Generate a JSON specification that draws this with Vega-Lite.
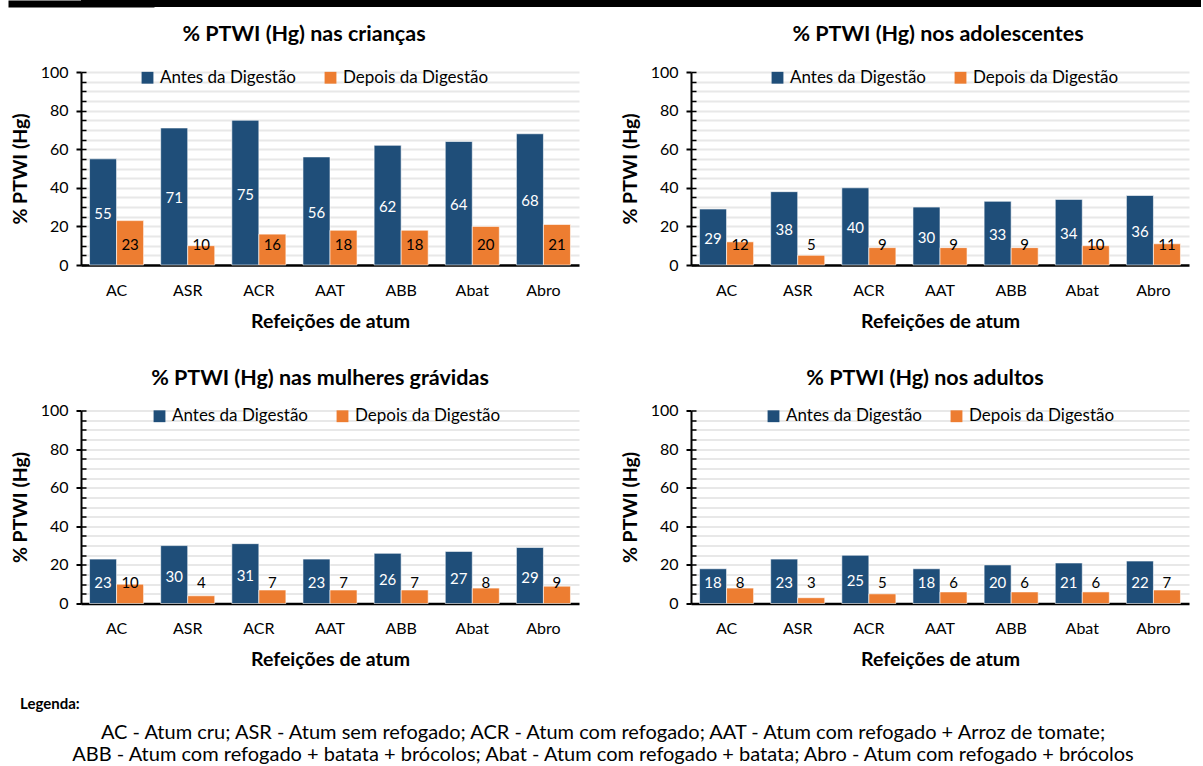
{
  "$schema": "https://vega.github.io/schema/vega-lite/v6.json",
  "padding": {"left": 10, "top": 0, "right": 0, "bottom": 0},
  "background": "white",
  "datasets": {
    "ptwi": [
      {"grupo": "criancas", "refeicao": "AC", "Antes da Digestão": 55, "Depois da Digestão": 23},
      {"grupo": "criancas", "refeicao": "ASR", "Antes da Digestão": 71, "Depois da Digestão": 10},
      {"grupo": "criancas", "refeicao": "ACR", "Antes da Digestão": 75, "Depois da Digestão": 16},
      {"grupo": "criancas", "refeicao": "AAT", "Antes da Digestão": 56, "Depois da Digestão": 18},
      {"grupo": "criancas", "refeicao": "ABB", "Antes da Digestão": 62, "Depois da Digestão": 18},
      {"grupo": "criancas", "refeicao": "Abat", "Antes da Digestão": 64, "Depois da Digestão": 20},
      {"grupo": "criancas", "refeicao": "Abro", "Antes da Digestão": 68, "Depois da Digestão": 21},
      {"grupo": "adolescentes", "refeicao": "AC", "Antes da Digestão": 29, "Depois da Digestão": 12},
      {"grupo": "adolescentes", "refeicao": "ASR", "Antes da Digestão": 38, "Depois da Digestão": 5},
      {"grupo": "adolescentes", "refeicao": "ACR", "Antes da Digestão": 40, "Depois da Digestão": 9},
      {"grupo": "adolescentes", "refeicao": "AAT", "Antes da Digestão": 30, "Depois da Digestão": 9},
      {"grupo": "adolescentes", "refeicao": "ABB", "Antes da Digestão": 33, "Depois da Digestão": 9},
      {"grupo": "adolescentes", "refeicao": "Abat", "Antes da Digestão": 34, "Depois da Digestão": 10},
      {"grupo": "adolescentes", "refeicao": "Abro", "Antes da Digestão": 36, "Depois da Digestão": 11},
      {"grupo": "gravidas", "refeicao": "AC", "Antes da Digestão": 23, "Depois da Digestão": 10},
      {"grupo": "gravidas", "refeicao": "ASR", "Antes da Digestão": 30, "Depois da Digestão": 4},
      {"grupo": "gravidas", "refeicao": "ACR", "Antes da Digestão": 31, "Depois da Digestão": 7},
      {"grupo": "gravidas", "refeicao": "AAT", "Antes da Digestão": 23, "Depois da Digestão": 7},
      {"grupo": "gravidas", "refeicao": "ABB", "Antes da Digestão": 26, "Depois da Digestão": 7},
      {"grupo": "gravidas", "refeicao": "Abat", "Antes da Digestão": 27, "Depois da Digestão": 8},
      {"grupo": "gravidas", "refeicao": "Abro", "Antes da Digestão": 29, "Depois da Digestão": 9},
      {"grupo": "adultos", "refeicao": "AC", "Antes da Digestão": 18, "Depois da Digestão": 8},
      {"grupo": "adultos", "refeicao": "ASR", "Antes da Digestão": 23, "Depois da Digestão": 3},
      {"grupo": "adultos", "refeicao": "ACR", "Antes da Digestão": 25, "Depois da Digestão": 5},
      {"grupo": "adultos", "refeicao": "AAT", "Antes da Digestão": 18, "Depois da Digestão": 6},
      {"grupo": "adultos", "refeicao": "ABB", "Antes da Digestão": 20, "Depois da Digestão": 6},
      {"grupo": "adultos", "refeicao": "Abat", "Antes da Digestão": 21, "Depois da Digestão": 6},
      {"grupo": "adultos", "refeicao": "Abro", "Antes da Digestão": 22, "Depois da Digestão": 7}
    ]
  },
  "columns": 1,
  "align": "none",
  "spacing": 27.5,
  "resolve": {"scale": {"color": "independent"}, "legend": {"color": "independent"}},
  "concat": [
    {
      "columns": 1,
      "align": "none",
      "spacing": 36.5,
      "resolve": {"scale": {"color": "independent"}, "legend": {"color": "independent"}},
      "concat": [
        {
          "columns": 1,
          "align": "none",
          "spacing": 12,
          "resolve": {"scale": {"color": "independent"}, "legend": {"color": "independent"}},
          "concat": [
            {
              "width": 1120,
              "height": 7,
              "data": {"values": [{"v": 0}]},
              "mark": {"type": "text"},
              "encoding": {
                "y": {"field": "v", "type": "quantitative", "title": null, "scale": {"domain": [0, 1]},
                  "axis": {"orient": "left", "domainWidth": 146, "domainColor": "#000000", "ticks": false, "labels": false, "grid": false}}
              },
              "view": {"fill": "#000000", "stroke": null}
            },
            {
              "spacing": 41,
              "resolve": {"scale": {"color": "independent"}, "legend": {"color": "independent"}},
              "hconcat": [
                {
                  "data": {"name": "ptwi"},
                  "transform": [
                    {"filter": "datum.grupo === 'criancas'"},
                    {"fold": ["Antes da Digestão", "Depois da Digestão"], "as": ["fase", "valor"]},
                    {"calculate": "max(datum.valor / 2, 11.5)", "as": "posRotulo"}
                  ],
                  "title": {"text": "% PTWI (Hg) nas crianças", "dx": -26, "offset": 18.5},
                  "width": 498,
                  "height": 193,
                  "encoding": {
                    "x": {"field": "refeicao", "type": "nominal", "sort": ["AC", "ASR", "ACR", "AAT", "ABB", "Abat", "Abro"], "title": "Refeições de atum", "scale": {"paddingInner": 0.24, "paddingOuter": 0.12}},
                    "xOffset": {"field": "fase", "type": "nominal", "sort": ["Antes da Digestão", "Depois da Digestão"]}
                  },
                  "resolve": {"axis": {"y": "independent"}},
                  "layer": [
                    {
                      "mark": {"type": "bar", "stroke": "white", "strokeWidth": 0.6},
                      "encoding": {
                        "y": {"field": "valor", "type": "quantitative", "title": null, "scale": {"domain": [0, 100]},
                          "axis": {"orient": "left", "values": [0, 5, 10, 15, 20, 25, 30, 35, 40, 45, 50, 55, 60, 65, 70, 75, 80, 85, 90, 95, 100], "labels": false, "domain": false, "grid": true, "tickSize": -5, "tickWidth": 1.5, "zindex": 0}},
                        "color": {"field": "fase", "type": "nominal", "scale": {"domain": ["Antes da Digestão", "Depois da Digestão"], "range": ["#1f4e79", "#ed7d31"]},
                          "legend": {"orient": "none", "legendX": 58, "legendY": -3, "direction": "horizontal", "title": null}}
                      }
                    },
                    {
                      "mark": {"type": "text", "fontSize": 15, "font": "Lato", "baseline": "middle", "dy": 2},
                      "encoding": {
                        "y": {"field": "posRotulo", "type": "quantitative", "title": "% PTWI (Hg)",
                          "axis": {"orient": "left", "values": [0, 20, 40, 60, 80, 100], "grid": false, "tickSize": 5, "zindex": 1}},
                        "text": {"field": "valor", "type": "quantitative"},
                        "color": {"condition": {"test": "datum.fase === 'Antes da Digestão'", "value": "white"}, "value": "#000000"}
                      }
                    }
                  ]
                },
                {
                  "data": {"name": "ptwi"},
                  "transform": [
                    {"filter": "datum.grupo === 'adolescentes'"},
                    {"fold": ["Antes da Digestão", "Depois da Digestão"], "as": ["fase", "valor"]},
                    {"calculate": "max(datum.valor / 2, 11.5)", "as": "posRotulo"}
                  ],
                  "title": {"text": "% PTWI (Hg) nos adolescentes", "dx": -2, "offset": 18.5},
                  "width": 498,
                  "height": 193,
                  "encoding": {
                    "x": {"field": "refeicao", "type": "nominal", "sort": ["AC", "ASR", "ACR", "AAT", "ABB", "Abat", "Abro"], "title": "Refeições de atum", "scale": {"paddingInner": 0.24, "paddingOuter": 0.12}},
                    "xOffset": {"field": "fase", "type": "nominal", "sort": ["Antes da Digestão", "Depois da Digestão"]}
                  },
                  "resolve": {"axis": {"y": "independent"}},
                  "layer": [
                    {
                      "mark": {"type": "bar", "stroke": "white", "strokeWidth": 0.6},
                      "encoding": {
                        "y": {"field": "valor", "type": "quantitative", "title": null, "scale": {"domain": [0, 100]},
                          "axis": {"orient": "left", "values": [0, 5, 10, 15, 20, 25, 30, 35, 40, 45, 50, 55, 60, 65, 70, 75, 80, 85, 90, 95, 100], "labels": false, "domain": false, "grid": true, "tickSize": -5, "tickWidth": 1.5, "zindex": 0}},
                        "color": {"field": "fase", "type": "nominal", "scale": {"domain": ["Antes da Digestão", "Depois da Digestão"], "range": ["#1f4e79", "#ed7d31"]},
                          "legend": {"orient": "none", "legendX": 78, "legendY": -3, "direction": "horizontal", "title": null}}
                      }
                    },
                    {
                      "mark": {"type": "text", "fontSize": 15, "font": "Lato", "baseline": "middle", "dy": 2},
                      "encoding": {
                        "y": {"field": "posRotulo", "type": "quantitative", "title": "% PTWI (Hg)",
                          "axis": {"orient": "left", "values": [0, 20, 40, 60, 80, 100], "grid": false, "tickSize": 5, "zindex": 1}},
                        "text": {"field": "valor", "type": "quantitative"},
                        "color": {"condition": {"test": "datum.fase === 'Antes da Digestão'", "value": "white"}, "value": "#000000"}
                      }
                    }
                  ]
                }
              ]
            }
          ]
        },
        {
          "spacing": 41,
          "resolve": {"scale": {"color": "independent"}, "legend": {"color": "independent"}},
          "hconcat": [
            {
              "data": {"name": "ptwi"},
              "transform": [
                {"filter": "datum.grupo === 'gravidas'"},
                {"fold": ["Antes da Digestão", "Depois da Digestão"], "as": ["fase", "valor"]},
                {"calculate": "max(datum.valor / 2, 11.5)", "as": "posRotulo"}
              ],
              "title": {"text": "% PTWI (Hg) nas mulheres grávidas", "dx": -10, "offset": 13.5},
              "width": 498,
              "height": 193,
              "encoding": {
                "x": {"field": "refeicao", "type": "nominal", "sort": ["AC", "ASR", "ACR", "AAT", "ABB", "Abat", "Abro"], "title": "Refeições de atum", "scale": {"paddingInner": 0.24, "paddingOuter": 0.12}},
                "xOffset": {"field": "fase", "type": "nominal", "sort": ["Antes da Digestão", "Depois da Digestão"]}
              },
              "resolve": {"axis": {"y": "independent"}},
              "layer": [
                {
                  "mark": {"type": "bar", "stroke": "white", "strokeWidth": 0.6},
                  "encoding": {
                    "y": {"field": "valor", "type": "quantitative", "title": null, "scale": {"domain": [0, 100]},
                      "axis": {"orient": "left", "values": [0, 5, 10, 15, 20, 25, 30, 35, 40, 45, 50, 55, 60, 65, 70, 75, 80, 85, 90, 95, 100], "labels": false, "domain": false, "grid": true, "tickSize": -5, "tickWidth": 1.5, "zindex": 0}},
                    "color": {"field": "fase", "type": "nominal", "scale": {"domain": ["Antes da Digestão", "Depois da Digestão"], "range": ["#1f4e79", "#ed7d31"]},
                      "legend": {"orient": "none", "legendX": 70, "legendY": -3, "direction": "horizontal", "title": null}}
                  }
                },
                {
                  "mark": {"type": "text", "fontSize": 15, "font": "Lato", "baseline": "middle", "dy": 2},
                  "encoding": {
                    "y": {"field": "posRotulo", "type": "quantitative", "title": "% PTWI (Hg)",
                      "axis": {"orient": "left", "values": [0, 20, 40, 60, 80, 100], "grid": false, "tickSize": 5, "zindex": 1}},
                    "text": {"field": "valor", "type": "quantitative"},
                    "color": {"condition": {"test": "datum.fase === 'Antes da Digestão'", "value": "white"}, "value": "#000000"}
                  }
                }
              ]
            },
            {
              "data": {"name": "ptwi"},
              "transform": [
                {"filter": "datum.grupo === 'adultos'"},
                {"fold": ["Antes da Digestão", "Depois da Digestão"], "as": ["fase", "valor"]},
                {"calculate": "max(datum.valor / 2, 11.5)", "as": "posRotulo"}
              ],
              "title": {"text": "% PTWI (Hg) nos adultos", "dx": -15, "offset": 13.5},
              "width": 498,
              "height": 193,
              "encoding": {
                "x": {"field": "refeicao", "type": "nominal", "sort": ["AC", "ASR", "ACR", "AAT", "ABB", "Abat", "Abro"], "title": "Refeições de atum", "scale": {"paddingInner": 0.24, "paddingOuter": 0.12}},
                "xOffset": {"field": "fase", "type": "nominal", "sort": ["Antes da Digestão", "Depois da Digestão"]}
              },
              "resolve": {"axis": {"y": "independent"}},
              "layer": [
                {
                  "mark": {"type": "bar", "stroke": "white", "strokeWidth": 0.6},
                  "encoding": {
                    "y": {"field": "valor", "type": "quantitative", "title": null, "scale": {"domain": [0, 100]},
                      "axis": {"orient": "left", "values": [0, 5, 10, 15, 20, 25, 30, 35, 40, 45, 50, 55, 60, 65, 70, 75, 80, 85, 90, 95, 100], "labels": false, "domain": false, "grid": true, "tickSize": -5, "tickWidth": 1.5, "zindex": 0}},
                    "color": {"field": "fase", "type": "nominal", "scale": {"domain": ["Antes da Digestão", "Depois da Digestão"], "range": ["#1f4e79", "#ed7d31"]},
                      "legend": {"orient": "none", "legendX": 74, "legendY": -3, "direction": "horizontal", "title": null}}
                  }
                },
                {
                  "mark": {"type": "text", "fontSize": 15, "font": "Lato", "baseline": "middle", "dy": 2},
                  "encoding": {
                    "y": {"field": "posRotulo", "type": "quantitative", "title": "% PTWI (Hg)",
                      "axis": {"orient": "left", "values": [0, 20, 40, 60, 80, 100], "grid": false, "tickSize": 5, "zindex": 1}},
                    "text": {"field": "valor", "type": "quantitative"},
                    "color": {"condition": {"test": "datum.fase === 'Antes da Digestão'", "value": "white"}, "value": "#000000"}
                  }
                }
              ]
            }
          ]
        }
      ]
    },
    {
      "width": 1120,
      "height": 44,
      "data": {"values": [
        {"linha": 1, "texto": "AC - Atum cru; ASR - Atum sem refogado; ACR - Atum com refogado; AAT - Atum com refogado + Arroz de tomate;"},
        {"linha": 2, "texto": "ABB - Atum com refogado + batata + brócolos; Abat - Atum com refogado + batata; Abro - Atum com refogado + brócolos"}
      ]},
      "title": {"text": "Legenda:", "anchor": "start", "frame": "group", "fontSize": 15, "dx": -61, "offset": 10},
      "mark": {"type": "text", "fontSize": 20, "font": "Lato", "color": "#000000", "dx": -38},
      "encoding": {
        "y": {"field": "linha", "type": "ordinal", "axis": null, "scale": {"type": "point", "padding": 0.5}},
        "text": {"field": "texto"}
      }
    }
  ],
  "config": {
    "font": "Lato",
    "view": {"stroke": null},
    "axis": {"labelFont": "Lato", "titleFont": "Lato", "labelColor": "#000000", "titleColor": "#000000", "labelFontSize": 16, "titleFontSize": 19.5, "titleFontWeight": "bold"},
    "axisX": {"domainColor": "#000000", "domainWidth": 2.5, "ticks": false, "labelAngle": 0, "labelPadding": 17, "titlePadding": 14, "grid": false, "zindex": 1},
    "axisY": {"domainColor": "#000000", "domainWidth": 2, "tickColor": "#000000", "tickWidth": 2, "gridColor": "#e8e8e8", "gridWidth": 2, "labelPadding": 8, "titlePadding": 10},
    "legend": {"symbolType": "square", "symbolSize": 140, "labelFontSize": 17, "labelFont": "Lato", "labelColor": "#000000", "columnPadding": 26, "symbolStrokeWidth": 0, "labelOffset": 4, "symbolOpacity": 1},
    "title": {"font": "Lato", "fontSize": 21.5, "fontWeight": "bold", "color": "#000000", "anchor": "middle", "frame": "group"}
  }
}
